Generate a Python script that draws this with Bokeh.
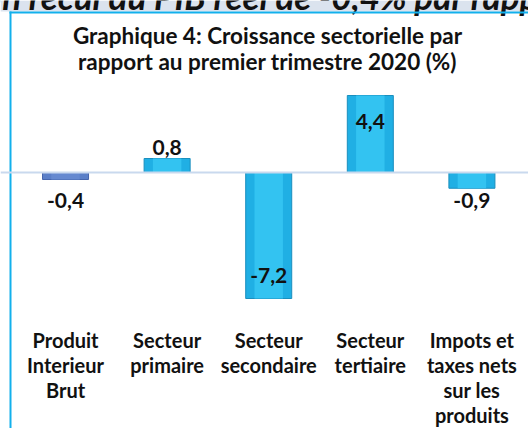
from bokeh.plotting import figure
from bokeh.models import Range1d, Label, ColumnDataSource, Span, BoxAnnotation
from bokeh.core.properties import value
from bokeh.embed import file_html
from bokeh.resources import INLINE

categories = ["Produit\nInterieur\nBrut", "Secteur\nprimaire", "Secteur\nsecondaire",
              "Secteur\ntertiaire", "Impots et\ntaxes nets\nsur les\nproduits"]
values = [-0.4, 0.8, -7.2, 4.4, -0.9]
value_labels = ["-0,4", "0,8", "-7,2", "4,4", "-0,9"]
title_lines = ["Graphique 4: Croissance sectorielle par", "rapport au premier trimestre 2020 (%)"]
headline = "Un recul du PIB réel de -0,4% par rapport"

W, H = 528, 428
PX = 17.5  # pixels per unit on the value axis
idx = list(range(len(values)))
fills = ["#5a7fc8"] + ["#20afe4"] * 4
inner = ["#6589d0"] + ["#33c3f1"] * 4
lines = ["#4565ad"] + ["#1a8fbe"] * 4

# data label placement (Excel style): outside end for small bars, inside for large ones
label_y = []
for v in values:
    if abs(v) < 2:
        label_y.append(v + 0.65 if v > 0 else -1.6)
    else:
        label_y.append(v * 0.82 if v < 0 else v * 0.66)

bars = ColumnDataSource(dict(x=idx, v=values, fill=fills, inner=inner, line=lines,
                             lab=value_labels, ly=label_y))

# category labels split into lines
cx, cy, ct = [], [], []
for i, c in enumerate(categories):
    for j, part in enumerate(c.split("\n")):
        cx.append(i)
        cy.append(-9.55 - j * 25 / PX)
        ct.append(part)
cats = ColumnDataSource(dict(x=cx, y=cy, t=ct))

p = figure(width=W, height=H, output_backend="svg", toolbar_location=None,
           x_range=Range1d(-0.640, 4.557), y_range=Range1d(-256 / PX, 172 / PX),
           min_border=0, outline_line_color=None, background_fill_color="white",
           border_fill_color="white")
p.axis.visible = False
p.grid.visible = False

# headline band and frame borders
p.add_layout(BoxAnnotation(top=H, bottom=H - 11, left=0, right=W,
                           top_units="screen", bottom_units="screen",
                           left_units="screen", right_units="screen",
                           fill_color="#dbe3ee", fill_alpha=1, line_color=None))
p.add_layout(Label(x=-22, y=H + 5, x_units="screen", y_units="screen", text=headline,
                   text_font="Lato", text_font_style="bold italic",
                   text_font_size="35px", text_color="#111111", text_baseline="alphabetic"))
p.add_layout(BoxAnnotation(top=H - 11, bottom=H - 13, left=9, right=W,
                           top_units="screen", bottom_units="screen",
                           left_units="screen", right_units="screen",
                           fill_color="#12b0ec", fill_alpha=1, line_color=None))
p.add_layout(BoxAnnotation(top=H - 11, bottom=0, left=9, right=11,
                           top_units="screen", bottom_units="screen",
                           left_units="screen", right_units="screen",
                           fill_color="#12b0ec", fill_alpha=1, line_color=None))

# zero line
p.add_layout(Span(location=0, dimension="width", line_color="#c9d9ee", line_width=2))

p.vbar(x="x", top="v", bottom=0, width=0.453, source=bars,
       fill_color="fill", line_color="line", line_width=1)
p.vbar(x="x", top="v", bottom=0, width=0.28, source=bars,
       fill_color="inner", line_color=None)

p.text(x="x", y="ly", text="lab", source=bars, text_align="center", text_baseline="middle",
       text_font=value("Lato"), text_font_style="bold", text_font_size="21px",
       text_color="#111111")

p.text(x="x", y="y", text="t", source=cats, text_align="center", text_baseline="middle",
       text_font=value("Lato"), text_font_style="bold", text_font_size="20px",
       text_color="#111111")

for i, t in enumerate(title_lines):
    p.add_layout(Label(x=267, y=H - 35 - i * 26, x_units="screen", y_units="screen",
                       text=t, text_align="center", text_baseline="alphabetic",
                       text_font="Lato", text_font_style="bold",
                       text_font_size="22.5px", text_color="#111111"))

open("out.html", "w").write(file_html(p, INLINE))
